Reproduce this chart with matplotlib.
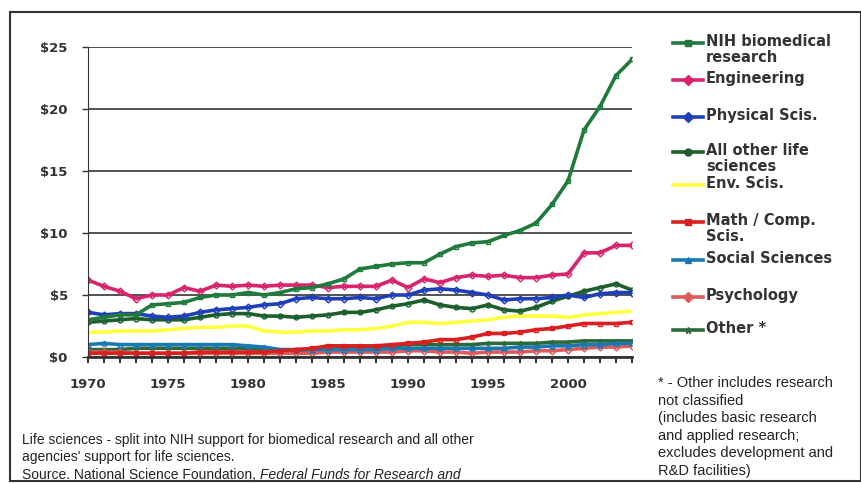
import matplotlib
matplotlib.use("Agg")
import matplotlib.pyplot as plt
from matplotlib.lines import Line2D
from matplotlib.patches import Rectangle

plt.rcParams["font.family"] = ["Liberation Sans", "DejaVu Sans"]

years = list(range(1970, 2005))

nih = [3.0, 3.2, 3.4, 3.4, 4.2, 4.3, 4.4, 4.8, 5.0, 5.0, 5.2, 5.0, 5.2, 5.5, 5.6,
       5.9, 6.3, 7.1, 7.3, 7.5, 7.6, 7.6, 8.3, 8.9, 9.2, 9.3, 9.8, 10.2, 10.8, 12.3,
       14.2, 18.3, 20.2, 22.7, 24.0]
engineering = [6.2, 5.7, 5.3, 4.7, 5.0, 5.0, 5.6, 5.3, 5.8, 5.7, 5.8, 5.7, 5.8, 5.8, 5.8,
               5.6, 5.7, 5.7, 5.7, 6.2, 5.6, 6.3, 6.0, 6.4, 6.6, 6.5, 6.6, 6.4, 6.4, 6.6,
               6.7, 8.4, 8.4, 9.0, 9.0]
physical = [3.6, 3.4, 3.5, 3.5, 3.3, 3.2, 3.3, 3.6, 3.8, 3.9, 4.0, 4.2, 4.3, 4.7, 4.8,
            4.7, 4.7, 4.8, 4.7, 5.0, 5.0, 5.4, 5.5, 5.4, 5.2, 5.0, 4.6, 4.7, 4.7, 4.8,
            5.0, 4.8, 5.1, 5.2, 5.2]
other_life = [2.8, 2.9, 3.0, 3.1, 3.0, 3.0, 3.0, 3.2, 3.4, 3.5, 3.5, 3.3, 3.3, 3.2, 3.3,
              3.4, 3.6, 3.6, 3.8, 4.1, 4.3, 4.6, 4.2, 4.0, 3.9, 4.2, 3.8, 3.7, 4.0, 4.5,
              4.9, 5.3, 5.6, 5.9, 5.4]
env = [2.0, 2.0, 2.1, 2.1, 2.1, 2.2, 2.3, 2.4, 2.4, 2.5, 2.5, 2.1, 2.0, 2.0, 2.1,
       2.1, 2.2, 2.2, 2.3, 2.5, 2.8, 2.8, 2.7, 2.8, 2.9, 3.0, 3.2, 3.3, 3.3, 3.3,
       3.2, 3.4, 3.5, 3.6, 3.7]
math_comp = [0.3, 0.3, 0.3, 0.3, 0.3, 0.3, 0.3, 0.4, 0.4, 0.4, 0.4, 0.4, 0.5, 0.6, 0.7,
             0.9, 0.9, 0.9, 0.9, 1.0, 1.1, 1.2, 1.4, 1.4, 1.6, 1.9, 1.9, 2.0, 2.2, 2.3,
             2.5, 2.7, 2.7, 2.7, 2.8]
social = [1.0, 1.1, 1.0, 1.0, 1.0, 1.0, 1.0, 1.0, 1.0, 1.0, 0.9, 0.8, 0.6, 0.6, 0.6,
          0.6, 0.6, 0.6, 0.6, 0.7, 0.7, 0.7, 0.7, 0.7, 0.7, 0.7, 0.7, 0.8, 0.8, 0.9,
          0.9, 1.0, 1.0, 1.1, 1.1]
psychology = [0.4, 0.4, 0.4, 0.3, 0.3, 0.3, 0.3, 0.3, 0.3, 0.3, 0.3, 0.3, 0.3, 0.3, 0.3,
              0.4, 0.4, 0.4, 0.4, 0.4, 0.5, 0.5, 0.4, 0.4, 0.3, 0.4, 0.4, 0.4, 0.5, 0.5,
              0.6, 0.7, 0.8, 0.8, 0.9]
other = [0.6, 0.6, 0.6, 0.7, 0.7, 0.7, 0.7, 0.7, 0.7, 0.7, 0.7, 0.6, 0.5, 0.5, 0.6,
         0.6, 0.7, 0.8, 0.8, 0.9, 1.0, 1.0, 1.0, 1.0, 1.0, 1.1, 1.1, 1.1, 1.1, 1.2,
         1.2, 1.3, 1.3, 1.3, 1.3]

series = [
    ("NIH biomedical\nresearch", nih, "#1f7a3c", "s"),
    ("Engineering", engineering, "#d8246c", "D"),
    ("Physical Scis.", physical, "#1f3fb8", "D"),
    ("All other life\nsciences", other_life, "#1c5e2c", "o"),
    ("Env. Scis.", env, "#ffff40", None),
    ("Math / Comp.\nScis.", math_comp, "#d82020", "s"),
    ("Social Sciences", social, "#1a78b0", "^"),
    ("Psychology", psychology, "#e05a5a", "D"),
    ("Other *", other, "#2c6a3a", "*"),
]
legend_y = [43, 80, 117, 152, 185, 222, 260, 297, 330]

W, H = 862, 483
fig = plt.figure(figsize=(W / 100, H / 100), dpi=100)
ax = fig.add_axes([88 / W, 1 - 357 / H, (632 - 88) / W, (357 - 47) / H])

# draw bottom series first so upper ones sit on top, like the original
for label, vals, color, marker in reversed(series):
    ax.plot(years, vals, color=color, lw=2.6, marker=marker, ms=3.5,
            mfc="none", mec=color, mew=1.0, solid_joinstyle="round")

bold = dict(family="DejaVu Sans", fontweight="bold", color="#333333")

ax.set_xlim(1970, 2004)
ax.set_ylim(0, 25)
ax.set_yticks([0, 5, 10, 15, 20, 25])
ax.set_yticklabels(["$0", "$5", "$10", "$15", "$20", "$25"], fontsize=9.5, **bold)
ax.set_xticks(range(1970, 2005))
ax.set_xticklabels([str(y) if y % 5 == 0 and y <= 2000 else "" for y in years],
                   fontsize=9.5, **bold)
ax.tick_params(axis="x", direction="out", length=4, width=1.5, color="#333333", pad=11)
ax.tick_params(axis="y", direction="out", length=4.5, width=1.0, color="#333333", pad=10)
ax.yaxis.grid(True, color="#333333", lw=1.2)
ax.set_axisbelow(True)
for side in ["top", "right"]:
    ax.spines[side].set_visible(False)
ax.spines["left"].set_color("#333333")
ax.spines["bottom"].set_color("#333333")
ax.spines["bottom"].set_linewidth(2)

# legend drawn by hand so wrapped labels keep the handle on the first line
for (label, vals, color, marker), ly in zip(series, legend_y):
    fy = 1 - ly / H
    fig.add_artist(Line2D([673 / W, 703 / W], [fy, fy], transform=fig.transFigure,
                          color=color, lw=2.6))
    if marker:
        fig.add_artist(Line2D([688 / W], [fy], transform=fig.transFigure, color=color,
                              marker=marker, ms=5, mfc=color, mec=color))
    fig.text(706 / W, fy + 9 / H, label, ha="left", va="top", fontsize=10.5,
             linespacing=1.1, **bold)

footnote = ("* - Other includes research\nnot classified\n(includes basic research\n"
            "and applied research;\nexcludes development and\nR&D facilities)")
fig.text(658 / W, 1 - 376 / H, footnote, ha="left", va="top", fontsize=10.5,
         color="#222222", linespacing=1.32)

fig.text(22 / W, 1 - 433 / H,
         "Life sciences - split into NIH support for biomedical research and all other\n"
         "agencies' support for life sciences.",
         ha="left", va="top", fontsize=10, color="#222222", linespacing=1.3)
src = fig.text(22 / W, 1 - 468 / H, "Source. National Science Foundation, ",
               ha="left", va="top", fontsize=10, color="#222222")
fig.canvas.draw()
bb = src.get_window_extent()
fig.text(bb.x1 / W, 1 - 468 / H, "Federal Funds for Research and",
         ha="left", va="top", fontsize=10, color="#222222", style="italic")

fig.add_artist(Rectangle((10 / W, 2 / H), 851 / W, 469 / H, transform=fig.transFigure,
                         fill=False, ec="#333333", lw=1.5))

fig.savefig("out.png", dpi=100)
